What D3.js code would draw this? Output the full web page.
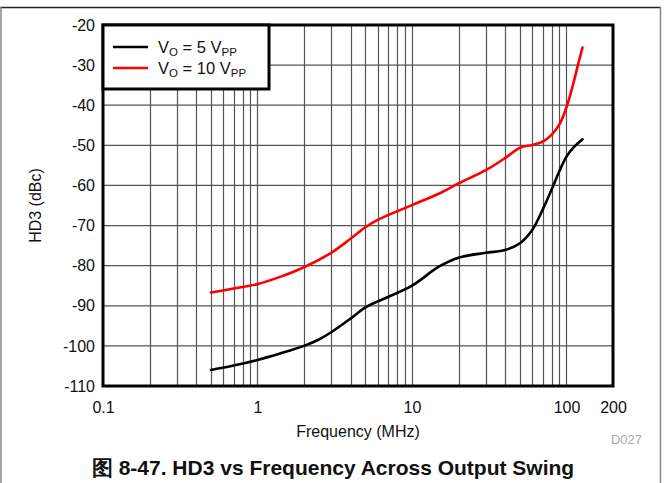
<!DOCTYPE html>
<html><head><meta charset="utf-8">
<script src="https://cdn.jsdelivr.net/npm/d3@7"></script>
<style>body{margin:0;background:#fff}svg{display:block}text{font-family:"Liberation Sans",Arial,sans-serif}</style>
</head><body><div id="chart"></div>
<script>
const freq5 = [0.5, 0.7, 1, 1.4, 2, 2.5, 3, 4, 5, 6, 7, 10, 15, 20, 30, 40, 50, 60, 70, 80, 90, 100, 110, 127];
const hd3_5 = [-106, -104.9, -103.5, -101.9, -100, -98.4, -96.6, -93.2, -90.4, -88.9, -87.8, -85, -80.2, -78, -76.8, -76.1, -74.4, -71.1, -66.1, -61.1, -56.4, -52.8, -50.7, -48.5];
const freq10 = [0.5, 0.7, 1, 1.4, 2, 3, 4, 5, 6, 7, 10, 15, 20, 30, 40, 50, 60, 70, 80, 90, 100, 110, 120, 127];
const hd3_10 = [-86.7, -85.7, -84.6, -82.8, -80.4, -76.8, -73.3, -70.4, -68.6, -67.4, -64.9, -62, -59.5, -56.2, -53.2, -50.6, -49.9, -49.1, -47.4, -44.8, -40.5, -35, -29.2, -25.6];
const xTickLabels = [0.1, 1, 10, 100, 200];
const yTicks = [-20, -30, -40, -50, -60, -70, -80, -90, -100, -110];
const seriesNames = ["5", "10"];
const seriesColors = ["#000000", "#ff0000"];

const W = 666, H = 483;
const svg = d3.select("#chart").append("svg").attr("width", W).attr("height", H);
const L = 103, R = 613, T = 25, B = 386;
const x = d3.scaleLog().domain([0.1, 200]).range([L, R]);
const y = d3.scaleLinear().domain([-110, -20]).range([B, T]);

// outer frame
svg.append("line").attr("x1", 0).attr("x2", 661).attr("y1", 7.5).attr("y2", 7.5).attr("stroke", "#222").attr("stroke-width", 1.5);
svg.append("line").attr("x1", 1).attr("x2", 1).attr("y1", 7).attr("y2", H).attr("stroke", "#888").attr("stroke-width", 1.5);
svg.append("line").attr("x1", 660.5).attr("x2", 660.5).attr("y1", 7).attr("y2", H).attr("stroke", "#888").attr("stroke-width", 1.5);

// grid
const minor = [];
[0.1, 1, 10, 100].forEach(d => { for (let k = 1; k <= 9; k++) { const v = d * k; if (v > 0.1 && v < 200) minor.push(v); } });
svg.append("g").selectAll("line").data(minor).join("line")
  .attr("x1", d => Math.round(x(d)) + 0.5).attr("x2", d => Math.round(x(d)) + 0.5)
  .attr("y1", T).attr("y2", B).attr("stroke", "#555").attr("stroke-width", 1.2);
svg.append("g").selectAll("line").data(yTicks.slice(1, -1)).join("line")
  .attr("x1", L).attr("x2", R)
  .attr("y1", d => y(d)).attr("y2", d => y(d)).attr("stroke", "#555").attr("stroke-width", 1.3);

// axes labels
const yAxis = d3.axisLeft(y).tickValues(yTicks).tickSize(0).tickPadding(8).tickFormat(d => String(d));
const gy = svg.append("g").attr("transform", `translate(${L},0)`).call(yAxis);
gy.select(".domain").remove();
gy.selectAll("text").attr("font-size", 16).attr("fill", "#111").attr("font-family", "Liberation Sans, Arial, sans-serif");

const xAxis = d3.axisBottom(x).tickValues(xTickLabels).tickSize(0).tickPadding(16).tickFormat(d => String(d));
const gx = svg.append("g").attr("transform", `translate(0,${B})`).call(xAxis);
gx.select(".domain").remove();
gx.selectAll("text").attr("font-size", 16).attr("fill", "#111").attr("font-family", "Liberation Sans, Arial, sans-serif");

// curves
const line = d3.line().x(d => x(d[0])).y(d => y(d[1])).curve(d3.curveCatmullRom.alpha(0.5));
const series = [d3.zip(freq5, hd3_5), d3.zip(freq10, hd3_10)];
series.forEach((s, i) => {
  svg.append("path").datum(s).attr("d", line).attr("fill", "none")
    .attr("stroke", seriesColors[i]).attr("stroke-width", 2.6).attr("stroke-linecap", "round");
});

// plot frame
svg.append("rect").attr("x", L).attr("y", T).attr("width", R - L).attr("height", B - T)
  .attr("fill", "none").attr("stroke", "#000").attr("stroke-width", 3);

// legend
svg.append("rect").attr("x", L).attr("y", T).attr("width", 166).attr("height", 64)
  .attr("fill", "#fff").attr("stroke", "#000").attr("stroke-width", 3);
seriesNames.forEach((n, i) => {
  const ly = 47 + i * 21;
  svg.append("line").attr("x1", 113).attr("x2", 148).attr("y1", ly).attr("y2", ly)
    .attr("stroke", seriesColors[i]).attr("stroke-width", 2.6);
  const t = svg.append("text").attr("x", 158).attr("y", ly + 6).attr("font-size", 16.5).attr("fill", "#111");
  t.append("tspan").text("V");
  t.append("tspan").text("O").attr("font-size", 11.5).attr("dy", 3);
  t.append("tspan").text(" = " + n + " V").attr("dy", -3);
  t.append("tspan").text("PP").attr("font-size", 11.5).attr("dy", 3);
});

// axis titles
svg.append("text").attr("x", (L + R) / 2).attr("y", 437).attr("text-anchor", "middle")
  .attr("font-size", 16).attr("fill", "#111").text("Frequency (MHz)");
svg.append("text").attr("transform", `translate(41,${(T + B) / 2}) rotate(-90)`).attr("text-anchor", "middle")
  .attr("font-size", 16).attr("fill", "#111").text("HD3 (dBc)");
svg.append("text").attr("x", 642).attr("y", 444).attr("text-anchor", "end")
  .attr("font-size", 13).attr("fill", "#aaa").text("D027");
svg.append("text").attr("x", 333).attr("y", 475).attr("text-anchor", "middle")
  .attr("font-size", 21).attr("font-weight", "bold").attr("fill", "#111")
  .attr("font-family", "Liberation Sans, 'Noto Sans CJK SC', sans-serif")
  .text("图 8-47. HD3 vs Frequency Across Output Swing");
</script></body></html>
